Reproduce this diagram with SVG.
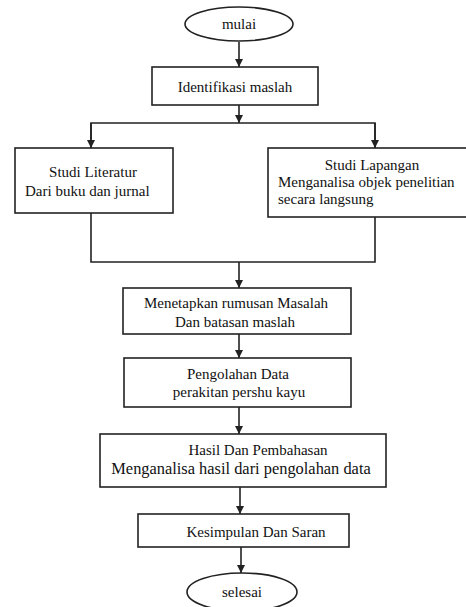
<svg xmlns="http://www.w3.org/2000/svg" width="466" height="607" viewBox="0 0 466 607">
<style>
.box{fill:#fff;stroke:#222;stroke-width:1.6}
.ln{fill:none;stroke:#222;stroke-width:1.6}
text{font-family:"Liberation Serif","Times New Roman",serif;font-size:15px;fill:#111}
.c{text-anchor:middle}
</style>
<defs>
<marker id="ah" markerWidth="10" markerHeight="10" refX="8" refY="5" orient="auto" markerUnits="userSpaceOnUse">
<path d="M0,1 L8,5 L0,9 Z" fill="#222"/>
</marker>
</defs>
<rect width="466" height="607" fill="#fff"/>
<g id="connectors">
<path class="ln" d="M239 42 V67" marker-end="url(#ah)"/>
<path class="ln" d="M239 105 V123" marker-end="url(#ah)"/>
<path class="ln" d="M91 148 V123 H375 V148"/>
<path class="ln" d="M91 123 V148" marker-end="url(#ah)"/>
<path class="ln" d="M375 123 V148" marker-end="url(#ah)"/>
<path class="ln" d="M91 213 V262 H375 V217"/>
<path class="ln" d="M239 262 V288" marker-end="url(#ah)"/>
<path class="ln" d="M239 334 V358" marker-end="url(#ah)"/>
<path class="ln" d="M239 407 V434" marker-end="url(#ah)"/>
<path class="ln" d="M240 487 V514" marker-end="url(#ah)"/>
<path class="ln" d="M241 547 V573" marker-end="url(#ah)"/>
</g>
<g id="mulai">
<ellipse class="box" cx="239" cy="24" rx="54" ry="17"/>
<text class="c" x="239" y="29">mulai</text>
</g>
<g id="identifikasi">
<rect class="box" x="152" y="67" width="166" height="38"/>
<text class="c" x="235" y="92">Identifikasi maslah</text>
</g>
<g id="studi-literatur">
<rect class="box" x="15" y="148" width="158" height="65"/>
<text class="c" x="93" y="177">Studi Literatur</text>
<text x="25" y="196">Dari buku dan jurnal</text>
</g>
<g id="studi-lapangan">
<rect class="box" x="268" y="148" width="204" height="69"/>
<text class="c" x="372" y="170">Studi Lapangan</text>
<text x="278" y="187">Menganalisa objek penelitian</text>
<text x="278" y="204">secara langsung</text>
</g>
<g id="menetapkan">
<rect class="box" x="123" y="288" width="228" height="46"/>
<text class="c" x="236" y="308">Menetapkan rumusan Masalah</text>
<text class="c" x="235" y="327">Dan batasan maslah</text>
</g>
<g id="pengolahan">
<rect class="box" x="124" y="358" width="227" height="49"/>
<text class="c" x="238" y="379">Pengolahan Data</text>
<text class="c" x="239" y="397">perakitan pershu kayu</text>
</g>
<g id="hasil">
<rect class="box" x="100" y="434" width="286" height="53"/>
<text class="c" x="258" y="455">Hasil Dan Pembahasan</text>
<text class="c" x="241" y="474" style="font-size:16.4px">Menganalisa hasil dari pengolahan data</text>
</g>
<g id="kesimpulan">
<rect class="box" x="138" y="514" width="211" height="33"/>
<text class="c" x="256" y="537">Kesimpulan Dan Saran</text>
</g>
<g id="selesai">
<ellipse class="box" cx="242" cy="592" rx="55" ry="19"/>
<text class="c" x="242" y="597">selesai</text>
</g>
</svg>
